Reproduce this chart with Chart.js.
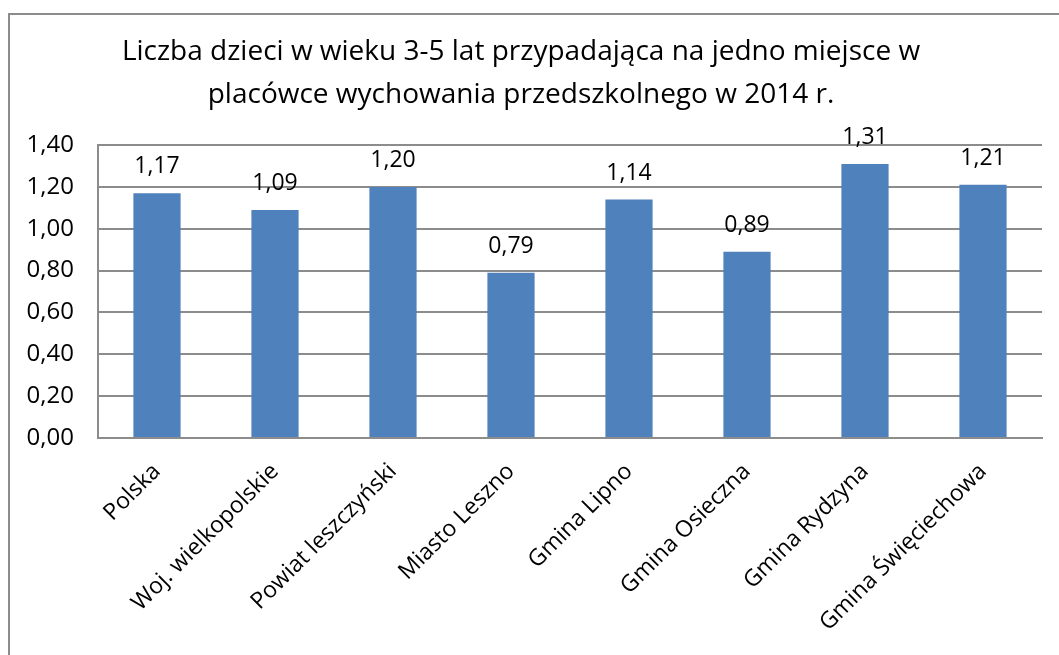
<!DOCTYPE html>
<html>
<head>
<meta charset="utf-8">
<script src="https://cdn.jsdelivr.net/npm/chart.js@4/dist/chart.umd.min.js"></script>
<style>
  html, body { margin: 0; padding: 0; background: #fff; }
  #wrap { position: relative; width: 1059px; height: 655px; overflow: hidden; }
  #frame { position: absolute; left: 8px; top: 13px; width: 1200px; height: 800px;
           border-left: 2px solid #8c8c8c; border-top: 2px solid #8c8c8c; }
  canvas { position: absolute; left: 0; top: 0; }
</style>
</head>
<body>
<div id="wrap">
  <div id="frame"></div>
  <canvas id="chart" width="1059" height="655"></canvas>
</div>
<script>
// Dane wykresu
const kategorie = ['Polska', 'Woj. wielkopolskie', 'Powiat leszczyński', 'Miasto Leszno',
  'Gmina Lipno', 'Gmina Osieczna', 'Gmina Rydzyna', 'Gmina Święciechowa'];
const wartosci = [1.17, 1.09, 1.20, 0.79, 1.14, 0.89, 1.31, 1.21];
const tytul = ['Liczba dzieci w wieku 3-5 lat przypadająca na jedno miejsce w',
  'placówce wychowania przedszkolnego w 2014 r.'];

const FONT = '"Open Sans", sans-serif';
const fmt = v => Number(v).toFixed(2).replace('.', ',');

// Etykiety wartości nad słupkami
const etykiety = {
  id: 'etykiety',
  afterDatasetsDraw(chart) {
    const ctx = chart.ctx;
    const meta = chart.getDatasetMeta(0);
    ctx.save();
    ctx.font = '23px ' + FONT;
    ctx.fillStyle = '#000';
    ctx.textAlign = 'center';
    ctx.textBaseline = 'alphabetic';
    meta.data.forEach((bar, i) => {
      ctx.fillText(fmt(wartosci[i]), bar.x, bar.y - 20);
    });
    ctx.restore();
  }
};

new Chart(document.getElementById('chart'), {
  type: 'bar',
  data: {
    labels: kategorie,
    datasets: [{
      data: wartosci,
      backgroundColor: '#4f81bd',
      barPercentage: 0.4,
      categoryPercentage: 1.0
    }]
  },
  options: {
    responsive: false,
    animation: false,
    layout: { padding: { top: 31, right: 17, left: 0, bottom: 0 } },
    plugins: {
      legend: { display: false },
      tooltip: { enabled: false },
      title: {
        display: true,
        text: tytul,
        color: '#000',
        font: { family: FONT, size: 28, weight: 'normal', lineHeight: 1.52 },
        padding: { top: 0, bottom: 29 }
      }
    },
    scales: {
      x: {
        grid: { display: false, drawTicks: false },
        border: { display: true, color: '#8c8c8c', width: 2 },
        ticks: {
          color: '#000',
          font: { family: FONT, size: 23 },
          maxRotation: 45,
          minRotation: 45,
          autoSkip: false,
          padding: 20
        },
        afterFit(scale) { scale.height = 217; }
      },
      y: {
        min: 0,
        max: 1.4,
        ticks: {
          stepSize: 0.2,
          color: '#000',
          font: { family: FONT, size: 24 },
          padding: 24,
          callback: v => fmt(v)
        },
        grid: { color: '#8c8c8c', lineWidth: 2, drawTicks: false },
        border: { display: true, color: '#8c8c8c', width: 2 },
        afterFit(scale) { scale.width = 98; }
      }
    }
  },
  plugins: [etykiety]
});
</script>
</body>
</html>
